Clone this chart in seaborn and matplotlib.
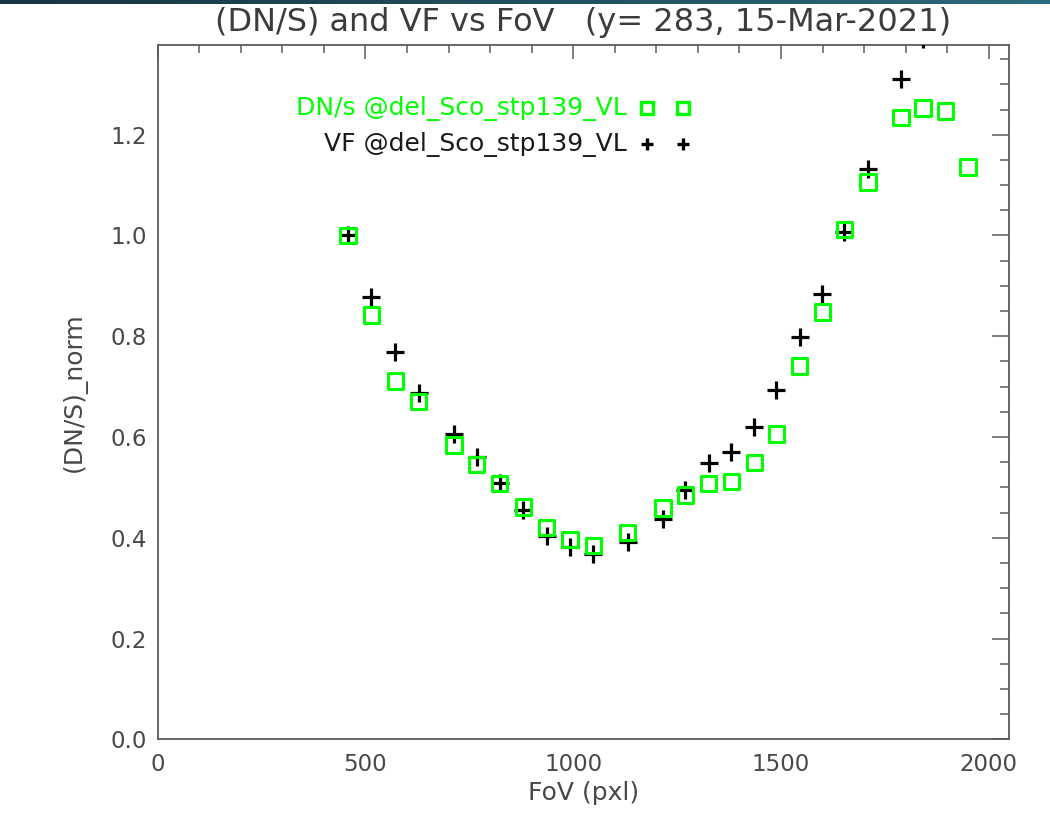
import numpy as np
import pandas as pd
import matplotlib
matplotlib.use("Agg")
import matplotlib.pyplot as plt
from matplotlib.colors import LinearSegmentedColormap
from matplotlib.ticker import MultipleLocator, FormatStrFormatter
import seaborn as sns

# FoV position of each del Sco step (pxl)
fov = [458, 514, 572, 628, 713, 768, 823, 880, 936, 992, 1048, 1131, 1216,
       1270, 1326, 1380, 1436, 1489, 1545, 1599, 1652, 1709, 1789, 1842, 1896, 1950]

# normalised count rate
dns_norm = [1.000, 0.842, 0.711, 0.671, 0.584, 0.546, 0.508, 0.461, 0.421, 0.397,
            0.384, 0.410, 0.459, 0.485, 0.507, 0.511, 0.549, 0.606, 0.741, 0.848,
            1.012, 1.106, 1.234, 1.253, 1.247, 1.136]

# normalised vignetting function (last two are off the top of the plot)
vf_norm = [1.000, 0.878, 0.768, 0.688, 0.606, 0.561, 0.508, 0.456, 0.404, 0.381,
           0.368, 0.392, 0.438, 0.495, 0.548, 0.571, 0.620, 0.694, 0.798, 0.883,
           1.007, 1.132, 1.310, 1.390, np.nan, np.nan]

title = "(DN/S) and VF vs FoV   (y= 283, 15-Mar-2021)"
label_dns = "DN/s @del_Sco_stp139_VL"
label_vf = "VF @del_Sco_stp139_VL"

df = pd.DataFrame({"FoV": fov, "DNs": dns_norm, "VF": vf_norm})

# Style
sns.set_theme(style="white")
plt.rcParams['font.family'] = ['DejaVu Sans']
axis_col = '#5a5a5a'
text_col = '#484848'
green = '#00ff00'

fig = plt.figure(figsize=(10.5, 8.25), dpi=100)
ax = fig.add_axes([0.1502, 0.1039, 0.8105, 0.8415])

# VF first, DN/s squares drawn over it
sns.scatterplot(data=df, x="FoV", y="VF", marker="+", s=169, color="black",
                linewidth=2.3, ax=ax, zorder=3)
sns.scatterplot(data=df, x="FoV", y="DNs", marker="s", s=121, color=green,
                facecolor="none", edgecolor=green, linewidth=2.2, ax=ax, zorder=4)

ax.set_xlim(0, 2048)
ax.set_ylim(0, 1.378)
ax.xaxis.set_major_locator(MultipleLocator(500))
ax.xaxis.set_minor_locator(MultipleLocator(100))
ax.yaxis.set_major_locator(MultipleLocator(0.2))
ax.yaxis.set_minor_locator(MultipleLocator(0.05))
ax.yaxis.set_major_formatter(FormatStrFormatter('%.1f'))

ax.tick_params(which='both', direction='in', top=True, right=True,
               color=axis_col, labelcolor=text_col, labelsize=16.5, width=1.1)
ax.tick_params(axis='x', which='major', length=10.3, pad=10)
ax.tick_params(axis='x', which='minor', length=5.5)
ax.tick_params(axis='y', which='major', length=12, pad=8)
ax.tick_params(axis='y', which='minor', length=6.5)
for sp in ax.spines.values():
    sp.set_visible(True)
    sp.set_color(axis_col)
    sp.set_linewidth(1.3)

ax.set_xlabel("FoV (pxl)", fontsize=18, color=text_col, va='center')
ax.xaxis.set_label_coords(0.5, -0.0773)
ax.set_ylabel("(DN/S)_norm", fontsize=18, color=text_col, va='center')
ax.yaxis.set_label_coords(-0.0984, 0.5)

fig.text(583 / 1050, 1 - 22 / 825, title, ha='center', va='center',
         fontsize=23, color='#3c3c3c')

# IDL style legend: label, then two symbols
ax.text(0.5515, 0.9093, label_dns, transform=ax.transAxes, ha='right', va='center',
        color=green, fontsize=18)
ax.text(0.5515, 0.8574, label_vf, transform=ax.transAxes, ha='right', va='center',
        color='#1a1a1a', fontsize=18)
ax.plot([0.5746, 0.6176], [0.9093, 0.9093], transform=ax.transAxes, ls='none',
        marker='s', ms=8.5, mfc='none', mec=green, mew=2.4, clip_on=False)
ax.plot([0.5746, 0.6176], [0.8574, 0.8574], transform=ax.transAxes, ls='none',
        marker='+', ms=8.5, mec='black', mew=2.4, clip_on=False)

# window title bar strip of the screenshot
bar = fig.add_axes([0, 1 - 4 / 825, 1, 4 / 825])
cmap = LinearSegmentedColormap.from_list('bar', ['#173440', '#2b6a7c'])
bar.imshow(np.linspace(0, 1, 256)[None, :], aspect='auto', cmap=cmap)
bar.axis('off')

fig.savefig('out.png', dpi=100)
